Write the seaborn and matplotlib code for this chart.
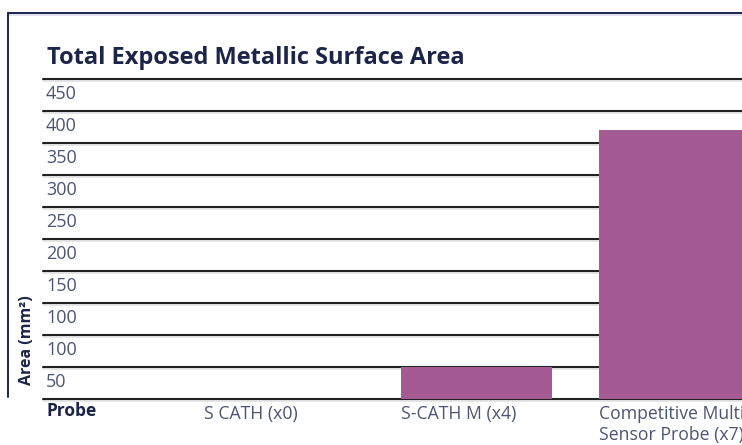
import matplotlib
matplotlib.use("Agg")
import matplotlib.pyplot as plt
import matplotlib.transforms as mtransforms
from matplotlib.lines import Line2D
import seaborn as sns

probes = ["S CATH (x0)", "S-CATH M (x4)", "Competitive Multi\nSensor Probe (x7)"]
areas = [0, 50, 421]
grid_values = [500, 450, 400, 350, 300, 250, 200, 150, 100, 50, 0]
grid_labels = ["450", "400", "350", "300", "250", "200", "150", "100", "100", "50"]

navy = "#1c2448"
label_grey = "#4d5474"
bar_color = "#a45b94"

sns.set_theme(style="white")
plt.rcParams["font.family"] = ["Open Sans", "DejaVu Sans"]

fig = plt.figure(figsize=(7.42, 4.45), dpi=100)
ax = fig.add_axes([43 / 742, 45.7 / 445, 1 - 43 / 742, 320 / 445])

sns.barplot(x=probes, y=areas, color=bar_color, saturation=1, width=0.76,
            linewidth=0, ax=ax, zorder=3)

ax.set_xlim(-1.195, 2.344)
ax.set_ylim(0, 500)

# double-stroke gridlines: dark line with a pale one just under it
shadow_tr = mtransforms.offset_copy(ax.get_yaxis_transform(), fig, y=-1.5, units="dots")
for v in grid_values:
    ax.plot([0, 1], [v, v], color="#e2e2e2", lw=1.2, zorder=1,
            transform=shadow_tr, clip_on=False)
    ax.axhline(v, color="#222222", lw=1.5, zorder=2, clip_on=False)

# labels sit just below their line
lab_tr = mtransforms.offset_copy(ax.get_yaxis_transform(), fig, x=3, y=-5.5, units="dots")
for v, lab in zip(grid_values, grid_labels):
    ax.text(0, v, lab, transform=lab_tr, ha="left", va="top",
            fontsize=13, color=label_grey, zorder=4)

for s in ax.spines.values():
    s.set_visible(False)
ax.set_yticks([])
ax.set_xticks([i - 0.38 for i in range(len(probes))])
ax.set_xticklabels(probes, ha="left", va="top", fontsize=12.7, color=label_grey,
                   linespacing=1.25)
ax.tick_params(axis="x", length=0, pad=4)
ax.set_xlabel("")
ax.set_ylabel("")

fig.text(47 / 742, 1 - 411 / 445, "Probe", ha="left", va="center",
         fontsize=12.5, fontweight="bold", color=navy)
fig.text(27 / 742, 1 - 340 / 445, "Area (mm²)", ha="center", va="center",
         rotation=90, fontsize=11.5, fontweight="bold", color=navy)
fig.text(47 / 742, 1 - 58 / 445, "Total Exposed Metallic Surface Area",
         ha="left", va="center", fontsize=17, fontweight="bold", color=navy)

# frame lines at top and left
fig.add_artist(Line2D([8 / 742, 1], [1 - 14.8 / 445] * 2, color="#dcdcf0", lw=1.2))
fig.add_artist(Line2D([8 / 742, 1], [1 - 13.3 / 445] * 2, color=navy, lw=1.4))
fig.add_artist(Line2D([8.3 / 742] * 2, [1 - 13.3 / 445, 1 - 396.7 / 445], color=navy, lw=1.4))

fig.savefig("out.png", dpi=100)
